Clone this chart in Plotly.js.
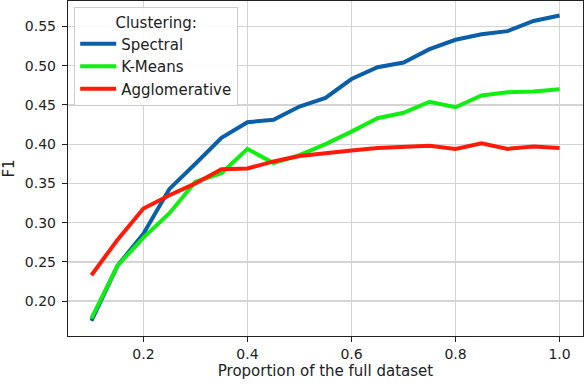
<!DOCTYPE html>
<html>
<head>
<meta charset="utf-8">
<script src="https://cdn.plot.ly/plotly-3.0.1.min.js"></script>
<style>
  html, body { margin: 0; padding: 0; background: #fff; }
  #chart { width: 584px; height: 384px; }
</style>
</head>
<body>
<div id="chart"></div>
<script>
// proportion of the full dataset used
const proportions = [0.1, 0.15, 0.2, 0.25, 0.3, 0.35, 0.4, 0.45, 0.5, 0.55,
  0.6, 0.65, 0.7, 0.75, 0.8, 0.85, 0.9, 0.95, 1.0];

// F1 score per clustering method
const spectralF1 = [0.175, 0.245, 0.286, 0.343, 0.375, 0.408, 0.428, 0.431, 0.448, 0.459,
  0.483, 0.498, 0.504, 0.521, 0.533, 0.540, 0.544, 0.557, 0.564];
const kmeansF1 = [0.178, 0.245, 0.281, 0.312, 0.352, 0.363, 0.394, 0.376, 0.386, 0.400,
  0.416, 0.433, 0.440, 0.454, 0.447, 0.462, 0.466, 0.467, 0.470];
const agglomerativeF1 = [0.233, 0.278, 0.318, 0.335, 0.350, 0.368, 0.369, 0.378, 0.385, 0.389,
  0.392, 0.395, 0.396, 0.398, 0.394, 0.401, 0.394, 0.397, 0.395];

const seriesNames = ['Spectral', 'K-Means', 'Agglomerative'];
const yTicks = [0.20, 0.25, 0.30, 0.35, 0.40, 0.45, 0.50, 0.55];
const xTicks = [0.2, 0.4, 0.6, 0.8, 1.0];

const lineTrace = (y, name, color) => ({
  x: proportions,
  y: y,
  name: name,
  type: 'scatter',
  mode: 'lines',
  line: { color: color, width: 4 }
});

const traces = [
  lineTrace(spectralF1, seriesNames[0], '#0b5ea8'),
  lineTrace(kmeansF1, seriesNames[1], '#11ee11'),
  lineTrace(agglomerativeF1, seriesNames[2], '#ff1a0a')
];

const layout = {
  width: 584,
  height: 384,
  font: { family: 'DejaVu Sans, sans-serif', size: 14, color: '#222' },
  paper_bgcolor: '#ffffff',
  plot_bgcolor: '#ffffff',
  margin: { l: 68, r: 1, t: 1, b: 48 },
  showlegend: true,
  legend: {
    x: 0.012, y: 0.982, xanchor: 'left', yanchor: 'top',
    bgcolor: 'rgba(255,255,255,0.9)',
    bordercolor: '#cccccc',
    borderwidth: 1,
    itemwidth: 36,
    tracegroupgap: 0,
    font: { size: 15 },
    title: { text: 'Clustering:', side: 'top center', font: { size: 15 } }
  },
  xaxis: {
    range: [0.055, 1.045],
    tickvals: xTicks,
    ticktext: xTicks.map(v => v.toFixed(1)),
    ticks: 'outside', ticklen: 5, tickcolor: '#222',
    showgrid: true, gridcolor: '#d4d4d4', gridwidth: 1.3,
    showline: true, linecolor: '#222', linewidth: 1.2, mirror: true,
    zeroline: false,
    title: { text: 'Proportion of the full dataset', standoff: 4, font: { size: 15 } }
  },
  yaxis: {
    range: [0.1556, 0.5824],
    tickvals: yTicks,
    ticktext: yTicks.map(v => v.toFixed(2)),
    ticks: 'outside', ticklen: 5, tickcolor: '#222',
    ticklabelstandoff: 3,
    showgrid: true, gridcolor: '#d4d4d4', gridwidth: 1.3,
    showline: true, linecolor: '#222', linewidth: 1.2, mirror: true,
    zeroline: false,
    title: { text: 'F1', standoff: 6, font: { size: 15 } }
  }
};

Plotly.newPlot('chart', traces, layout, { displayModeBar: false, staticPlot: true });
</script>
</body>
</html>
